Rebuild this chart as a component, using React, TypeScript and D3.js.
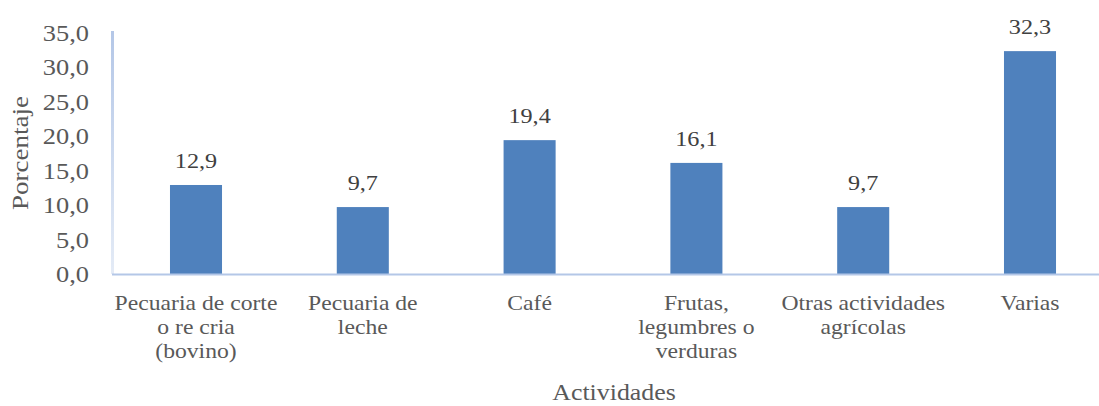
import React from "react";
import * as d3 from "d3";

const categories: string[][] = [
  ["Pecuaria de corte", "o re cria", "(bovino)"],
  ["Pecuaria de", "leche"],
  ["Café"],
  ["Frutas,", "legumbres o", "verduras"],
  ["Otras actividades", "agrícolas"],
  ["Varias"],
];
const values: number[] = [12.9, 9.7, 19.4, 16.1, 9.7, 32.3];
const yTicks: number[] = [0, 5, 10, 15, 20, 25, 30, 35];
const yTitle = "Porcentaje";
const xTitle = "Actividades";

const W = 1099;
const H = 406;
const FONT = "Liberation Serif, Times New Roman, serif";
const SX = 1.1;
const fmt = (v: number) => v.toFixed(1).replace(".", ",");

type TProps = {
  x: number;
  y: number;
  size: number;
  fill: string;
  anchor?: "start" | "middle" | "end";
  rotate?: boolean;
  children: React.ReactNode;
};

function T({ x, y, size, fill, anchor = "middle", rotate, children }: TProps) {
  const tr = rotate
    ? `translate(${x},${y}) rotate(-90) scale(1.15,1)`
    : `translate(${x},${y}) scale(${SX},1)`;
  return (
    <text
      transform={tr}
      dy="0.35em"
      textAnchor={anchor}
      style={{ fontFamily: FONT, fontSize: size }}
      fill={fill}
    >
      {children}
    </text>
  );
}

export default function App() {
  const x = d3
    .scaleBand<number>()
    .domain(categories.map((_, i) => i))
    .range([112.6, 1113.4])
    .paddingInner(0.688)
    .paddingOuter(0.344);
  const y = d3.scaleLinear().domain([0, 35]).range([274, 32.5]);
  const cx = (i: number) => x(i)! + x.bandwidth() / 2;

  return (
    <svg
      width={W}
      height={H}
      style={{ position: "absolute", left: 0, top: 0, background: "#fff", fontFamily: FONT }}
    >
      <defs>
        <linearGradient id="yaxisg" x1="0" y1="0" x2="0" y2="1">
          <stop offset="0" stopColor="#b4c7e7" />
          <stop offset="1" stopColor="#e4ebf6" />
        </linearGradient>
      </defs>
      <rect x={111} y={31} width={3} height={243} fill="url(#yaxisg)" />
      {yTicks.map((t) => (
        <T key={t} x={89} y={y(t)} size={24} fill="#595959" anchor="end">
          {fmt(t)}
        </T>
      ))}
      {values.map((v, i) => (
        <rect
          key={i}
          x={x(i)!}
          y={y(v)}
          width={x.bandwidth()}
          height={y(0) - y(v)}
          fill="#4f81bd"
        />
      ))}
      <line x1={112} x2={W} y1={274.5} y2={274.5} stroke="#b4c7e7" strokeWidth={2} />
      {values.map((v, i) => (
        <T key={i} x={cx(i)} y={y(v) - 25} size={22} fill="#404040">
          {fmt(v)}
        </T>
      ))}
      {categories.map((lines, i) =>
        lines.map((l, j) => (
          <T key={`${i}-${j}`} x={cx(i)} y={302 + j * 24} size={21.5} fill="#595959">
            {l}
          </T>
        ))
      )}
      <T x={614} y={392} size={23.5} fill="#595959">
        {xTitle}
      </T>
      <T x={20} y={153} size={23.5} fill="#595959" rotate>
        {yTitle}
      </T>
    </svg>
  );
}
